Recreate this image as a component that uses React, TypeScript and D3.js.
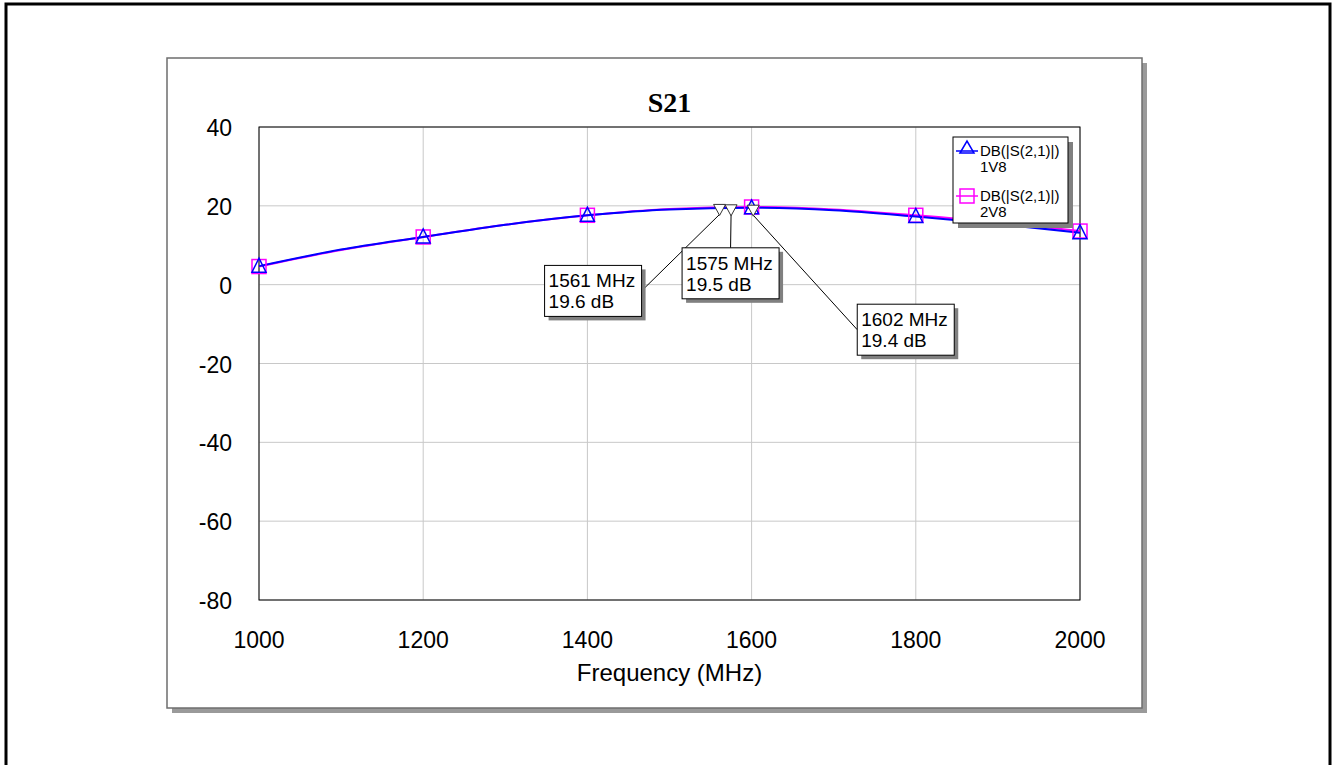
import React, { useRef, useEffect } from "react";
import * as d3 from "d3";

// frequency sweep (MHz) and S21 in dB
const freqs = [1000, 1100, 1200, 1300, 1400, 1500, 1600, 1700, 1800, 1900, 2000];
const s21_1v8 = [4.7, 8.9, 12.1, 15.2, 17.6, 19.1, 19.5, 18.9, 17.3, 15.4, 13.2];
const s21_2v8 = [4.6, 8.8, 12.1, 15.2, 17.6, 19.2, 19.7, 19.1, 17.6, 15.8, 13.6];
const symbolFreqs = [1000, 1200, 1400, 1600, 1800, 2000];

const xTicks = [1000, 1200, 1400, 1600, 1800, 2000];
const yTicks = [40, 20, 0, -20, -40, -60, -80];

const markerFreqs = [1561, 1575, 1602];
const markerValues = [19.6, 19.5, 19.4];
// label box offset from the marker point, and where the leader attaches
const markerBoxDx = [-175, -49, 104];
const markerBoxDy = [58, 40, 96];
const markerAnchor = ["right", "top", "left"];

const W = 1332;
const H = 765;
const frame = { x: 167, y: 58, w: 975, h: 650 };
const plot = { left: 259, top: 127, right: 1080, bottom: 600 };
const font = "'Liberation Sans', Arial, sans-serif";

const App: React.FC = () => {
  const svgRef = useRef<SVGSVGElement | null>(null);

  useEffect(() => {
    if (!svgRef.current) return;
    const svg = d3.select(svgRef.current);
    svg.selectAll("*").remove();

    // outer page border
    svg.append("rect")
      .attr("x", 6).attr("y", 4)
      .attr("width", 1324).attr("height", 820)
      .attr("fill", "white").attr("stroke", "black").attr("stroke-width", 3);

    // chart frame with shadow
    svg.append("rect")
      .attr("x", frame.x + 5).attr("y", frame.y + 5)
      .attr("width", frame.w).attr("height", frame.h)
      .attr("fill", "#9a9a9a");
    svg.append("rect")
      .attr("x", frame.x).attr("y", frame.y)
      .attr("width", frame.w).attr("height", frame.h)
      .attr("fill", "white").attr("stroke", "#6e6e6e").attr("stroke-width", 1.5);

    const x = d3.scaleLinear().domain([1000, 2000]).range([plot.left, plot.right]);
    const y = d3.scaleLinear().domain([-80, 40]).range([plot.bottom, plot.top]);

    // grid
    const grid = svg.append("g");
    grid.selectAll("line.gx").data(xTicks).enter().append("line")
      .attr("x1", (d) => x(d)).attr("x2", (d) => x(d))
      .attr("y1", plot.top).attr("y2", plot.bottom)
      .attr("stroke", "#c8c8c8").attr("stroke-width", 1);
    grid.selectAll("line.gy").data(yTicks).enter().append("line")
      .attr("x1", plot.left).attr("x2", plot.right)
      .attr("y1", (d) => y(d)).attr("y2", (d) => y(d))
      .attr("stroke", "#c8c8c8").attr("stroke-width", 1);

    // plot border
    svg.append("rect")
      .attr("x", plot.left).attr("y", plot.top)
      .attr("width", plot.right - plot.left).attr("height", plot.bottom - plot.top)
      .attr("fill", "none").attr("stroke", "black").attr("stroke-width", 1);

    // tick labels
    svg.append("g").selectAll("text").data(yTicks).enter().append("text")
      .attr("x", 232).attr("y", (d) => y(d) + 9)
      .attr("text-anchor", "end")
      .attr("font-family", font).attr("font-size", 23)
      .text((d) => d);
    svg.append("g").selectAll("text").data(xTicks).enter().append("text")
      .attr("x", (d) => x(d)).attr("y", 648)
      .attr("text-anchor", "middle")
      .attr("font-family", font).attr("font-size", 23)
      .text((d) => d);

    svg.append("text")
      .attr("x", (plot.left + plot.right) / 2).attr("y", 681)
      .attr("text-anchor", "middle")
      .attr("font-family", font).attr("font-size", 24)
      .text("Frequency (MHz)");

    svg.append("text")
      .attr("x", (plot.left + plot.right) / 2).attr("y", 112)
      .attr("text-anchor", "middle")
      .attr("font-family", "'Liberation Serif', 'Times New Roman', serif")
      .attr("font-weight", "bold").attr("font-size", 28)
      .text("S21");

    const line = d3.line<number>()
      .x((_, i) => x(freqs[i]))
      .y((d) => y(d))
      .curve(d3.curveMonotoneX);

    const g = svg.append("g");
    g.append("path").datum(s21_2v8)
      .attr("d", line).attr("fill", "none")
      .attr("stroke", "#ff00ff").attr("stroke-width", 2);
    g.append("path").datum(s21_1v8)
      .attr("d", line).attr("fill", "none")
      .attr("stroke", "#0000ff").attr("stroke-width", 2);

    const valueAt = (arr: number[], f: number) => arr[freqs.indexOf(f)];

    // symbols: magenta squares, blue triangles
    g.selectAll("rect.sq").data(symbolFreqs).enter().append("rect")
      .attr("x", (d) => x(d) - 7).attr("y", (d) => y(valueAt(s21_2v8, d)) - 7)
      .attr("width", 14).attr("height", 14)
      .attr("fill", "none").attr("stroke", "#ff00ff").attr("stroke-width", 1.5);
    g.selectAll("path.tri").data(symbolFreqs).enter().append("path")
      .attr("d", (d) => {
        const cx = x(d), cy = y(valueAt(s21_1v8, d));
        return `M${cx - 7},${cy + 6}L${cx},${cy - 8}L${cx + 7},${cy + 6}Z`;
      })
      .attr("fill", "none").attr("stroke", "#0000ff").attr("stroke-width", 1.5);

    // markers with labels
    const mk = svg.append("g");
    markerFreqs.forEach((f, i) => {
      const mx = x(f), my = y(markerValues[i]);
      const bx = mx + markerBoxDx[i], by = my + markerBoxDy[i];
      const bw = 97, bh = 51;
      let lx = bx + bw, ly = by + bh / 2;
      if (markerAnchor[i] === "top") { lx = bx + bw / 2; ly = by; }
      if (markerAnchor[i] === "left") { lx = bx; ly = by + bh / 2; }
      mk.append("line")
        .attr("x1", mx).attr("y1", my + 7).attr("x2", lx).attr("y2", ly)
        .attr("stroke", "black").attr("stroke-width", 1);
      mk.append("path")
        .attr("d", `M${mx - 6},${my - 3}L${mx + 6},${my - 3}L${mx},${my + 8}Z`)
        .attr("fill", "white").attr("stroke", "#333").attr("stroke-width", 1);
      mk.append("rect")
        .attr("x", bx + 4).attr("y", by + 4).attr("width", bw).attr("height", bh)
        .attr("fill", "#808080");
      mk.append("rect")
        .attr("x", bx).attr("y", by).attr("width", bw).attr("height", bh)
        .attr("fill", "white").attr("stroke", "black").attr("stroke-width", 1);
      mk.append("text")
        .attr("x", bx + 4).attr("y", by + 22)
        .attr("font-family", font).attr("font-size", 19)
        .text(`${f} MHz`);
      mk.append("text")
        .attr("x", bx + 4).attr("y", by + 43)
        .attr("font-family", font).attr("font-size", 19)
        .text(`${markerValues[i]} dB`);
    });

    // legend
    const lg = svg.append("g");
    const lgx = 953, lgy = 137, lgw = 115, lgh = 86;
    lg.append("rect").attr("x", lgx + 5).attr("y", lgy + 5)
      .attr("width", lgw).attr("height", lgh).attr("fill", "#808080");
    lg.append("rect").attr("x", lgx).attr("y", lgy)
      .attr("width", lgw).attr("height", lgh)
      .attr("fill", "white").attr("stroke", "black").attr("stroke-width", 1);
    const entries = [
      { name: "DB(|S(2,1)|)", sub: "1V8", color: "#0000ff", shape: "tri" },
      { name: "DB(|S(2,1)|)", sub: "2V8", color: "#ff00ff", shape: "sq" },
    ];
    entries.forEach((e, i) => {
      const cy = lgy + 14 + i * 45;
      lg.append("line").attr("x1", lgx + 3).attr("x2", lgx + 25)
        .attr("y1", cy).attr("y2", cy)
        .attr("stroke", e.color).attr("stroke-width", 1.5);
      if (e.shape === "tri") {
        lg.append("path")
          .attr("d", `M${lgx + 7},${cy + 2}L${lgx + 14},${cy - 10}L${lgx + 21},${cy + 2}Z`)
          .attr("fill", "none").attr("stroke", e.color).attr("stroke-width", 1.5);
      } else {
        lg.append("rect").attr("x", lgx + 7).attr("y", cy - 7)
          .attr("width", 14).attr("height", 14)
          .attr("fill", "none").attr("stroke", e.color).attr("stroke-width", 1.5);
      }
      lg.append("text").attr("x", lgx + 27).attr("y", cy + 5)
        .attr("font-family", font).attr("font-size", 15).text(e.name);
      lg.append("text").attr("x", lgx + 27).attr("y", cy + 21)
        .attr("font-family", font).attr("font-size", 15).text(e.sub);
    });
  }, []);

  return (
    <svg
      ref={svgRef}
      width={W}
      height={H}
      style={{ position: "absolute", left: 0, top: 0, background: "white" }}
    />
  );
};

export default App;
